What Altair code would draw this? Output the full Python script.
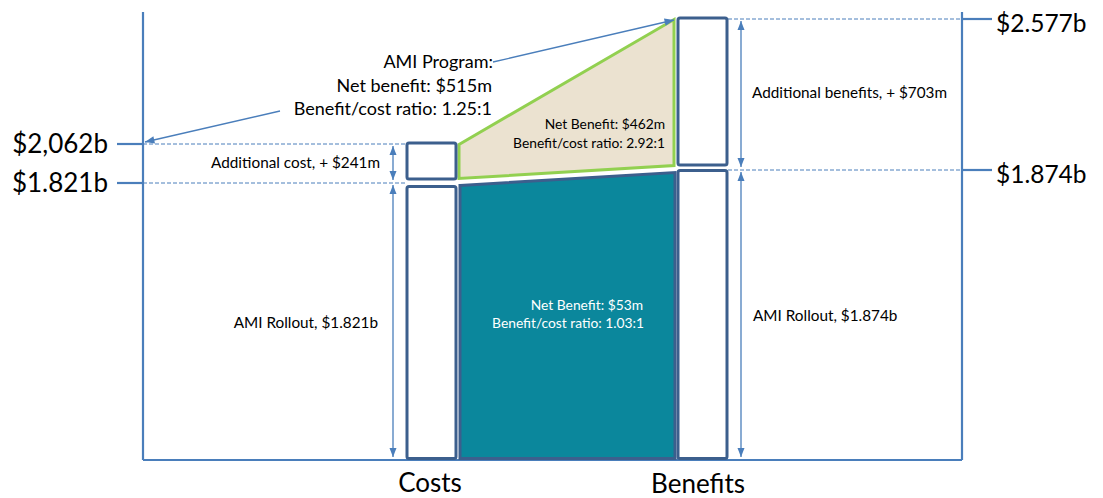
import math
import altair as alt
import pandas as pd

W, H = 1087, 490

# ---------------- data ----------------
categories = ["Costs", "Benefits"]
cost_parts = ["AMI Rollout", "Additional cost"]
cost_values = [1.821, 0.241]            # $b
benefit_parts = ["AMI Rollout", "Additional benefits"]
benefit_values = [1.874, 0.703]         # $b
cost_level_labels = ["$1.821b", "$2,062b"]
benefit_level_labels = ["$1.874b", "$2.577b"]
cost_part_labels = ["AMI Rollout, $1.821b", "Additional cost, + $241m"]
benefit_part_labels = ["AMI Rollout, $1.874b", "Additional benefits, + $703m"]
base_net_text = ["Net Benefit: $53m", "Benefit/cost ratio: 1.03:1"]
extra_net_text = ["Net Benefit: $462m", "Benefit/cost ratio: 2.92:1"]
program_text = ["AMI Program:", "Net benefit:  $515m", "Benefit/cost ratio: 1.25:1"]

cost_lv = [cost_values[0], round(cost_values[0] + cost_values[1], 3)]
ben_lv = [benefit_values[0], round(benefit_values[0] + benefit_values[1], 3)]

# ---------------- layout / style ----------------
BLUE = "#4A7EBB"
BOX = "#3C5F8D"
TEAL = "#0B879C"
GREEN = "#92D050"
BEIGE = "#EBE2D0"
FONT = "Lato"

# diagram is not drawn to scale: piecewise value->pixel mapping
Y_DOMAIN = sorted([0] + cost_lv + ben_lv)
Y_RANGE = [452, 175, 162, 136, 11]

px_x = alt.Scale(domain=[0, W], range=[0, W], nice=False, zero=False)
px_y = alt.Scale(domain=[0, H], range=[0, H], nice=False, zero=False)
val_y = alt.Scale(domain=Y_DOMAIN, range=Y_RANGE, nice=False, zero=False)


def X(f):
    return alt.X(f, type="quantitative", scale=px_x, axis=None)


def Yv(f):
    return alt.Y(f, type="quantitative", scale=val_y, axis=None)


def Yp(f):
    return alt.Y(f, type="quantitative", scale=px_y, axis=None)


layers = []

# frame
frame = pd.DataFrame({"x": [135, 954, 135], "x2": [135, 954, 954],
                      "y": [4, 4, 452], "y2": [452, 452, 452]})
layers.append(alt.Chart(frame).mark_rule(color=BLUE, strokeWidth=2.2).encode(
    x=X("x"), x2="x2", y=Yp("y"), y2="y2"))

# level lines
lv = pd.DataFrame({
    "level": cost_lv + ben_lv,
    "d0": [135, 135, 720, 720], "d1": [399, 399, 954, 954],
    "t0": [109, 109, 954, 954], "t1": [135, 135, 984, 984],
})
layers.append(alt.Chart(lv).mark_rule(color=BLUE, strokeWidth=1, strokeDash=[4, 2]).encode(
    x=X("d0"), x2="d1", y=Yv("level")))
layers.append(alt.Chart(lv).mark_rule(color=BLUE, strokeWidth=2.2).encode(
    x=X("t0"), x2="t1", y=Yv("level")))

# level labels
ll = pd.DataFrame({"level": cost_lv, "label": cost_level_labels, "x": [100, 100]})
rl = pd.DataFrame({"level": ben_lv, "label": benefit_level_labels, "x": [988, 988]})
layers.append(alt.Chart(ll).mark_text(align="right", baseline="alphabetic", dy=8.5,
                                      fontSize=26, font=FONT, color="#000").encode(
    x=X("x"), y=Yv("level"), text="label"))
layers.append(alt.Chart(rl).mark_text(align="left", baseline="alphabetic", dy=13,
                                      fontSize=24.5, font=FONT, color="#000").encode(
    x=X("x"), y=Yv("level"), text="label"))

# polygons (areas between the bars)
green = pd.DataFrame({"x": [451, 666], "top": [cost_lv[1], ben_lv[1]], "bot": [cost_lv[0], ben_lv[0]]})
teal = pd.DataFrame({"x": [452, 667], "top": [cost_lv[0], ben_lv[0]], "bot": [0, 0]})
layers.append(alt.Chart(teal).mark_area(fill=TEAL, stroke=BOX, strokeWidth=3, strokeJoin="miter",
                                        yOffset=2.5, y2Offset=-1.5, opacity=1).encode(
    x=X("x"), y=Yv("top"), y2="bot"))
layers.append(alt.Chart(green).mark_area(fill=BEIGE, stroke=GREEN, strokeWidth=3, strokeJoin="miter",
                                         yOffset=0.5, y2Offset=-4.5, opacity=1).encode(
    x=X("x"), y=Yv("top"), y2="bot"))

# boxes
boxes = [
    (399, 448, 0, cost_lv[0], 3.5, -1.5),
    (399, 448, cost_lv[0], cost_lv[1], -1, -4),
    (670, 719, 0, ben_lv[0], 0.5, -1.5),
    (670, 719, ben_lv[0], ben_lv[1], -1, -5),
]
for x0, x1, lo, hi, yo, y2o in boxes:
    d = pd.DataFrame({"x0": [x0], "x1": [x1], "hi": [hi], "lo": [lo]})
    layers.append(alt.Chart(d).mark_rect(fill="white", stroke=BOX, strokeWidth=3, cornerRadius=2,
                                         yOffset=yo, y2Offset=y2o).encode(
        x=X("x0"), x2="x1", y=Yv("hi"), y2="lo"))

# vertical double arrows
UP = "M0,0L0.7,1.8L-0.7,1.8Z"
va = pd.DataFrame({"x": [385, 385, 733, 733],
                   "top": [cost_lv[1], cost_lv[0], ben_lv[1], ben_lv[0]],
                   "bot": [cost_lv[0], 0, ben_lv[0], 0]})
layers.append(alt.Chart(va).mark_rule(color=BLUE, strokeWidth=1.3, yOffset=2, y2Offset=-3).encode(
    x=X("x"), y=Yv("top"), y2="bot"))
layers.append(alt.Chart(va).mark_point(shape=UP, filled=True, size=100, color=BLUE, opacity=1,
                                       angle=0, yOffset=2).encode(x=X("x"), y=Yv("top")))
layers.append(alt.Chart(va).mark_point(shape=UP, filled=True, size=100, color=BLUE, opacity=1,
                                       angle=180, yOffset=-3).encode(x=X("x"), y=Yv("bot")))

# diagonal pointer arrows
diag = [((485, 54), (666, 12)), ((272, 103), (137, 134))]
for (sx, sy), (tx, ty) in diag:
    d = pd.DataFrame({"x": [sx], "y": [sy], "x2": [tx], "y2": [ty]})
    ang = math.degrees(math.atan2(tx - sx, -(ty - sy))) % 360
    layers.append(alt.Chart(d).mark_rule(color=BLUE, strokeWidth=1.3).encode(
        x=X("x"), y=Yp("y"), x2="x2", y2="y2"))
    layers.append(alt.Chart(d).mark_point(shape=UP, filled=True, size=110, color=BLUE, opacity=1,
                                          angle=ang).encode(x=X("x2"), y=Yp("y2")))

# texts
def text_layer(texts, xs, ys, align, size, color="#000"):
    d = pd.DataFrame({"t": texts, "x": xs, "y": ys})
    return alt.Chart(d).mark_text(align=align, baseline="alphabetic", fontSize=size,
                                  font=FONT, color=color).encode(
        x=X("x"), y=Yp("y"), text="t")


layers.append(text_layer(cost_part_labels, [370, 372], [320, 160], "right", 15.3))
layers.append(text_layer(benefit_part_labels, [745, 744], [313, 90], "left", 15.3))
layers.append(text_layer(extra_net_text, [657, 657], [121, 140], "right", 13.8))
layers.append(text_layer(base_net_text, [635, 636], [302, 320], "right", 13.8, "white"))
layers.append(text_layer(program_text, [485, 484, 484], [60, 84, 107], "right", 18))
layers.append(text_layer(categories, [422, 690], [484, 485], "center", 26))

chart = alt.layer(*layers).resolve_scale(y="independent").properties(
    width=W, height=H, padding=0, autosize=alt.AutoSizeParams(type="none")
).configure_view(stroke=None)

chart.save("out.html", embed_options={"renderer": "svg", "actions": False})
